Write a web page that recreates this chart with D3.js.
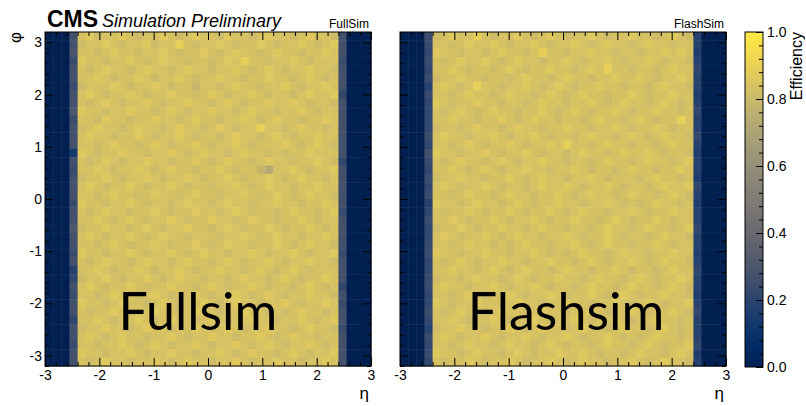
<!DOCTYPE html>
<html>
<head>
<meta charset="utf-8">
<script src="https://cdn.jsdelivr.net/npm/d3@7"></script>
<style>
  body { margin: 0; background: #fff; }
  text { font-family: "Liberation Sans", Arial, sans-serif; fill: #000; }
</style>
</head>
<body>
<svg id="chart" width="806" height="406"></svg>
<script>
// binning of the two maps
const etaRange = [-3, 3];
const phiRange = [-3.2, 3.2];
const nEta = 40;
const nPhi = 40;

const xTicks = [-3, -2, -1, 0, 1, 2, 3];
const yTicks = [-3, -2, -1, 0, 1, 2, 3];
const zTicks = [0, 0.2, 0.4, 0.6, 0.8, 1.0];

// efficiency codes: value = index in this string / 37
const levels = "0123456789ABCDEFGHIJKLMNOPQRSTUVWXYZ";

// each map row (top = phi +3.2) is: 3 dead bins, edge bin, 32 core bins, edge bin, 3 dead bins
const deadBins = "000";

const fullLeft  = "AAB9AA9AAB" + "9AAA5A9AAA" + "9AABAA9A78" + "A9AA8AA9AA";
const fullRight = "AAA9AAA8AA" + "AAAAA8AAAA" + "A9AAAA9AAA" + "8A9AA9AAAA";
const fullCore = [
  "VWUVVWVUVVWVUVWVVUWVVUVWVVUVWVVU",
  "UVVWVUVVWUVVXVUVVWVUVVWVUVVWVUVW",
  "VVUVWVVUVVWVUVVWVUVWVVUVWVVUVVWV",
  "WVVUVVWVUVWVVUVVUVWVXVVUVVWVUVVV",
  "VUVWVVUVWVVUVWVVUVVWVUVWVUVVWVVU",
  "VVWVUVVWVUVVWVUVVWVVUVVWVVUVWVUV",
  "UVVVWVUVVWVUVVTVVUVWVVUVVWVUVVWV",
  "VWVUVVWVUVVWVVUVWVUVVWVUVVUVWVVW",
  "VUVWVUVVWVUVVWVVUVWVUVVWVVWVUVVU",
  "WVVUVVWVVUVWVUVVWVVUVWVVUVVWVUVV",
  "VVUWVVUVVWVVUVWVVUVVWVUVWVVUVVWV",
  "UVWVVUVWVVUVWVVUVWVUVVXVVUVWVVUV",
  "VWVVUVVWVUVVWVUVVUVWVVUVWVUVVWVV",
  "VVUVWVVUVWVUVVWVUVVWVUVVVWVUVWVU",
  "WVUVVWVVUVVWVUVWVVUVWVVUVUVVWVVV",
  "VUVWVUVVWVVUVVWVUVWVVUVWVVUVVWVU",
  "VVWVUVVWVUVWVVUVVWVUVVTRVVWVUVVW",
  "UVVWVUVVWVUVVWVUVVWVUVVWVUVWVVUV",
  "VWVUVVWVUVVWVUVVUVVWVUVWVVUVVWVV",
  "VVUVWVVUVWVVUVWVVUVVWVUVWVUVWVVU",
  "WVVUVVWVUVVUVWVVUVWVVUVVWVVUVVWV",
  "VUVWVVUVVWVUVVWVVUVWVUVVUVWVVUVW",
  "VVWVUVWVUVVWVUVVWVVUVWVVUVVWVUVV",
  "UVVWVVUVWVUVVWVVUVWVUVVWVUVVWVUV",
  "VWVUVVWVUVWVVUVVVUVVWVUVWVVUVVWV",
  "VVUVWVUVVWVUVVWVUVWVVUVVWVUVWVVU",
  "WVVUVVWVUVVWVUVWVVUVVWVUVVWVUVVW",
  "VUVWVVUVWVVUVWVVUVWVUVVWVUVVWVVU",
  "VVWVUVVWVUVVWVUVVWVVUVWVUVWVUVVV",
  "UVVWVUVVWVUVWVVUVVUVWVVUVWVUVVWV",
  "VWVUVVWVUVVWVVUVWVUVVWVUVVUVWVUV",
  "VVUVWVVUVWVUVVWVUVVWVUVWVUVVWVVU",
  "WVVUVWVVUVWVUVVWVUVWVVUVVWVUVVWV",
  "VUVVWVUVVWVVUVWVVUVVWVVUVUVWVVUV",
  "VVWVUVVWVUVWVVUVWVUVVWVVUVVWVUVW",
  "UVVWVVUVWVVUVVWVUVWVUVVWVVUVWVVU",
  "VWVUVWVVUVVWVUVVWVVUVVWVUVWVVUVV",
  "VVUVVWVUVWVUVVWVUVVWVUVWVUVVWVUV",
  "WVVUVVWVUVVWVVUVVWVUVWVVUVWVUVVW",
  "VUVWVVUVVWVUVWVVUVVWVUVVWVVUVVWV"
];

const flashLeft  = "9989897988" + "8898A98989" + "7898899889" + "9889879898";
const flashRight = "7767877678" + "7787677687" + "6778776787" + "7678777867";
const flashCore = [
  "UVWVVXVUVVWVUVWVUVVWVUVVWVVUVWVU",
  "VVUVWVVWVUVVWVUVVWVUVWVVUVWVVUVV",
  "WVVUVVUVWVVUVXVVUVVWVVUVVUVVWVWV",
  "VUVWVVWVUVWVVUVVWVUVVWVUVVWVUVVU",
  "VVWVUVVUVWVUVVWVVUVWVXVVUVVUVWVV",
  "UVVWVVUVVUVWVVUVWVVUVVWVVWVUVVWV",
  "VWVUVXVVUVVWVUVWVUVVWVVUVVUVWVVU",
  "VVUVWVVUVWVVUVWVUVWVVUVVWVUVVWVV",
  "WVUVVWVVUVVUVWVVUVVWVUVWVVUVWVUV",
  "VUVWVUVWVVUVVWVUVWVUVVWVUVVWVVUV",
  "VVWVVUVVWVUVWVVUVVUVWVVUVWVUVVXV",
  "UVVUVWVVUVWVVUVVWVVUVVWVUVVWVUVV",
  "VWVVUVVWVUVVWVUVVUVWVVUVWVUVWVVU",
  "VVUVWVUVVWVUVVWVXVVUVWVVUVVUVWVV",
  "WVVUVVWVUVVWVUVVUVWVVUVWVVWVUVVU",
  "VUVWVVUVWVUVVWVVUVVUVWVVUVWVVUVW",
  "VVWVUVWVUVVWVVUVVWVUVVUVWVVUVVWV",
  "UVVWVVUVVWVUVWVVUVVWVUVVVUVWVVUV",
  "VWVUVVWVUVVUVWVVWVUVVWVUVVUVWVVW",
  "VVUVWVVUVWVVUVVWVUVWVVUVWVVUVWVU",
  "WVVUVWVVUVWVUVVWVVUVVWVUVUVWVVUV",
  "VUVVWVUVVWVUVVWVUVWVVUVVWVUVVWVV",
  "VVWVUVVWVUVVWVUVVWVVUVWVUVVWVUVV",
  "UVVWVUVVWVVUVWVVUVVUVWVVUVWVVUVW",
  "VWVUVVWVUVWVVUVVWVUVVWVUVVUVWVVU",
  "VVUVWVVUVUVWVVUVVWVUVWVVUVVWVUVV",
  "WVVUVVWVVUVVWVUVUVWVVUVWVVUVVWVV",
  "VUVWVUVVWVVUVVWVVUVWVUVVWVUVWVVU",
  "VVWVVUVWVUVWVVUVWVVUVVWVUVVUVWVV",
  "UVVUVWVVUVWVUVVWVVUVWVVUVWVUVVWV",
  "VWVVUVVWVUVVWVUVVUVWVVUVWVVUVWVU",
  "VVUVWVUVVWVUVVWVUVVWVUVWVUVVWVVU",
  "WVUVVWVVUVWVVUVVWVVUVVWVUVWVUVVW",
  "VUVWVVUVWVVUVWVVUVVWVUVVWVUVVWVU",
  "VVWVUVVWVUVVWVUVVWVUVVWVUVVWVVUV",
  "UVVWVVUVVWVUVWVVUVWVVUVWVVUVWVUV",
  "VWVUVVWVUVVWVUVVWVUVVWVUVUVWVVUV",
  "VVUVWVVUVWVVUVWVUVVUVWVVUVWVUVVW",
  "WVVUVWVVUVWVUVVWVVWVUVVUVWVVUVWV",
  "VUVVWVUVVWVUVVWVUVWVVUVVWVUVWVVU"
];

const panels = [
  { id: "full",  label: "FullSim",  big: "Fullsim",  left: fullLeft,  right: fullRight,  core: fullCore },
  { id: "flash", label: "FlashSim", big: "Flashsim", left: flashLeft, right: flashRight, core: flashCore }
];

const svg = d3.select("#chart");
const color = d3.scaleSequential(d3.interpolateCividis).domain([0, 1]);
const y = d3.scaleLinear().domain(phiRange).range([366, 32]);
const xScales = [
  d3.scaleLinear().domain(etaRange).range([45, 371]),
  d3.scaleLinear().domain(etaRange).range([400, 726])
];
const bigX = [198, 566];
const tickFmt = d => String(d);   // plain hyphen minus, like ROOT

const etaStep = (etaRange[1] - etaRange[0]) / nEta;
const phiStep = (phiRange[1] - phiRange[0]) / nPhi;
const minorEta = d3.range(-30, 31, 2).map(v => v / 10).filter(v => !xTicks.includes(v));
const minorPhi = d3.range(-32, 33, 2).map(v => v / 10).filter(v => !yTicks.includes(v));

function cellsFor(p) {
  const out = [];
  for (let r = 0; r < nPhi; r++) {
    const row = deadBins + p.left[r] + p.core[r] + p.right[r] + deadBins;
    for (let c = 0; c < nEta; c++) {
      out.push({
        eta: etaRange[0] + c * etaStep,
        phi: phiRange[1] - (r + 1) * phiStep,
        eff: levels.indexOf(row[c]) / 37
      });
    }
  }
  return out;
}

panels.forEach((p, k) => {
  const x = xScales[k];
  const g = svg.append("g").attr("class", "panel-" + p.id);

  g.selectAll("rect.cell")
    .data(cellsFor(p))
    .enter()
    .append("rect")
    .attr("class", "cell")
    .attr("x", d => x(d.eta))
    .attr("y", d => y(d.phi + phiStep))
    .attr("width", d => x(d.eta + etaStep) - x(d.eta) + 0.5)
    .attr("height", d => y(d.phi) - y(d.phi + phiStep) + 0.5)
    .attr("fill", d => color(d.eff));

  // big overlay label
  g.append("text")
    .attr("x", bigX[k])
    .attr("y", 330)
    .attr("text-anchor", "middle")
    .style("font-family", "Lato, 'Open Sans', sans-serif")
    .style("font-size", "52px")
    .text(p.big);

  // axes: inward ticks on all four sides
  const axes = [
    { ax: d3.axisBottom(x), t: `translate(0,${y.range()[0]})`, labels: true, pad: 4, vals: xTicks, minor: minorEta },
    { ax: d3.axisTop(x), t: `translate(0,${y.range()[1]})`, labels: false, pad: 3, vals: xTicks, minor: minorEta },
    { ax: d3.axisLeft(y), t: `translate(${x.range()[0]},0)`, labels: k === 0, pad: 3, vals: yTicks, minor: minorPhi },
    { ax: d3.axisRight(y), t: `translate(${x.range()[1]},0)`, labels: false, pad: 3, vals: yTicks, minor: minorPhi }
  ];
  axes.forEach(a => {
    const major = g.append("g").attr("transform", a.t)
      .call(a.ax.tickValues(a.vals).tickSize(-8).tickPadding(a.pad)
        .tickFormat(a.labels ? tickFmt : ""));
    major.select(".domain").remove();
    major.selectAll("text").style("font-size", "14px");
    const minor = g.append("g").attr("transform", a.t)
      .call(a.ax.tickValues(a.minor).tickSize(-4).tickFormat(""));
    minor.select(".domain").remove();
  });

  g.append("rect")
    .attr("x", x.range()[0]).attr("y", y.range()[1])
    .attr("width", x.range()[1] - x.range()[0])
    .attr("height", y.range()[0] - y.range()[1])
    .attr("fill", "none").attr("stroke", "#000").attr("stroke-width", 1);

  g.append("text")
    .attr("x", x.range()[1] - 2).attr("y", 28)
    .attr("text-anchor", "end")
    .style("font-size", "12px")
    .text(p.label);

  g.append("text")
    .attr("x", x.range()[1] - 2).attr("y", 399)
    .attr("text-anchor", "end")
    .style("font-size", "17px")
    .text("η");
});

// y title
svg.append("text")
  .attr("transform", "translate(21,32) rotate(-90)")
  .attr("text-anchor", "end")
  .style("font-size", "17px")
  .text("φ");

// header
svg.append("text").attr("x", 47).attr("y", 27)
  .style("font-size", "23px").style("font-weight", "bold").text("CMS");
svg.append("text").attr("x", 102).attr("y", 27)
  .style("font-size", "18px").style("font-style", "italic").text("Simulation Preliminary");

// colour bar
const z = d3.scaleLinear().domain([0, 1]).range([367, 32]);
const barX = 745, barW = 18;
const grad = svg.append("defs").append("linearGradient")
  .attr("id", "cbar").attr("x1", 0).attr("y1", 1).attr("x2", 0).attr("y2", 0);
grad.selectAll("stop")
  .data(d3.range(0, 1.0001, 0.02))
  .enter().append("stop")
  .attr("offset", d => d)
  .attr("stop-color", d => color(d));
svg.append("rect")
  .attr("x", barX).attr("y", z(1))
  .attr("width", barW).attr("height", z(0) - z(1))
  .attr("fill", "url(#cbar)");

const zAxis = svg.append("g").attr("transform", `translate(${barX + barW},0)`)
  .call(d3.axisRight(z).tickValues(zTicks).tickSize(-7).tickPadding(4).tickFormat(d3.format(".1f")));
zAxis.select(".domain").remove();
zAxis.selectAll("text").style("font-size", "14px");
const zMinor = svg.append("g").attr("transform", `translate(${barX + barW},0)`)
  .call(d3.axisRight(z).tickValues(d3.range(1, 25).filter(v => v % 5 !== 0).map(v => v / 25)).tickSize(-4).tickFormat(""));
zMinor.select(".domain").remove();
svg.append("rect")
  .attr("x", barX).attr("y", z(1))
  .attr("width", barW).attr("height", z(0) - z(1))
  .attr("fill", "none").attr("stroke", "#000");

svg.append("text")
  .attr("transform", "translate(802,32) rotate(-90)")
  .attr("text-anchor", "end")
  .style("font-size", "16px")
  .text("Efficiency");
</script>
</body>
</html>
